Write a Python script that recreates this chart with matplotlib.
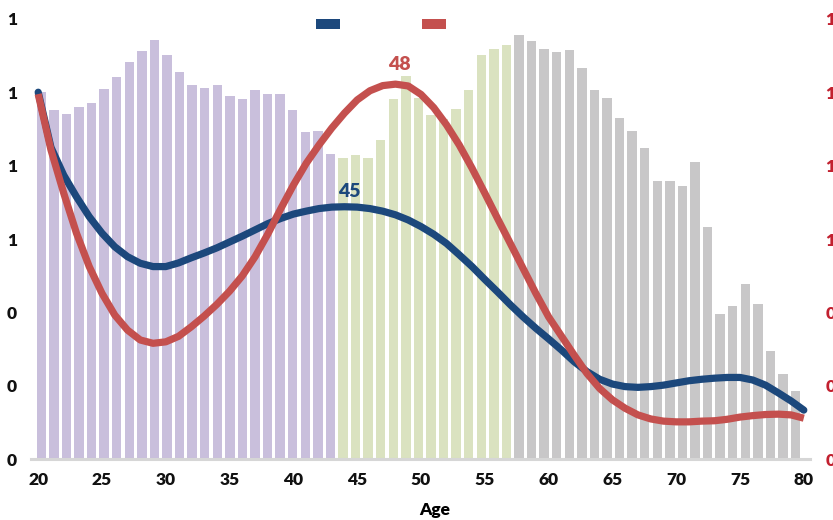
import matplotlib
matplotlib.use("Agg")
import matplotlib.pyplot as plt
from matplotlib.ticker import FuncFormatter
from matplotlib.patches import Patch
import numpy as np

plt.rcParams['font.family'] = ['Lato', 'DejaVu Sans']
FW = 'heavy'

ages = list(range(20, 81))

bar_values = [1.00, 0.952, 0.941, 0.959, 0.971, 1.009, 1.041, 1.082, 1.112, 1.142,
              1.101, 1.055, 1.021, 1.011, 1.021, 0.989, 0.981, 1.005, 0.995, 0.995,
              0.952, 0.892, 0.895, 0.832, 0.822, 0.829, 0.822, 0.869, 0.981, 1.045,
              0.985, 0.938, 0.926, 0.955, 1.006, 1.102, 1.118, 1.129, 1.156, 1.139,
              1.118, 1.109, 1.115, 1.065, 1.006, 0.985, 0.929, 0.895, 0.849, 0.758,
              0.758, 0.745, 0.809, 0.632, 0.396, 0.418, 0.478, 0.423, 0.296, 0.232,
              0.186]

blue_values = [1.00, 0.850, 0.774, 0.715, 0.661, 0.616, 0.579, 0.552, 0.534, 0.525,
               0.525, 0.535, 0.549, 0.562, 0.576, 0.592, 0.608, 0.625, 0.642, 0.656,
               0.668, 0.676, 0.683, 0.687, 0.688, 0.687, 0.683, 0.676, 0.666, 0.652,
               0.634, 0.613, 0.588, 0.557, 0.525, 0.490, 0.456, 0.421, 0.388, 0.357,
               0.328, 0.298, 0.266, 0.239, 0.218, 0.205, 0.198, 0.196, 0.198, 0.202,
               0.208, 0.214, 0.218, 0.221, 0.223, 0.223, 0.216, 0.202, 0.181, 0.159,
               0.134]

red_values = [0.995, 0.843, 0.725, 0.616, 0.525, 0.452, 0.393, 0.352, 0.325, 0.316,
              0.320, 0.335, 0.361, 0.390, 0.422, 0.458, 0.500, 0.552, 0.614, 0.682,
              0.747, 0.806, 0.856, 0.902, 0.943, 0.979, 1.004, 1.018, 1.022, 1.017,
              0.994, 0.958, 0.911, 0.856, 0.793, 0.725, 0.656, 0.588, 0.520, 0.452,
              0.388, 0.336, 0.284, 0.234, 0.193, 0.162, 0.139, 0.121, 0.110, 0.104,
              0.102, 0.102, 0.104, 0.105, 0.109, 0.115, 0.119, 0.122, 0.123, 0.121,
              0.112]

group_edges = [44, 58]  # first age of green group, first age of gray group
purple = '#c9bfdc'
green = '#dae2c0'
gray = '#c8c7c8'
blue = '#1c487c'
red = '#c4504e'
red_tick = '#c2202f'

xticks = list(range(20, 81, 5))
yticks = [0, 0.2, 0.4, 0.6, 0.8, 1.0, 1.2]

W, H = 833, 520
fig = plt.figure(figsize=(W / 100, H / 100), dpi=100)
left, right, bottom, top = 31, 810, 459.3, 18.8
rect = [left / W, 1 - bottom / H, (right - left) / W, (bottom - top) / H]

ax_b = fig.add_axes(rect)
colors = [purple if a < group_edges[0] else (green if a < group_edges[1] else gray) for a in ages]
ax_b.bar(ages, bar_values, width=0.75, color=colors, linewidth=0)
ax_b.set_xlim(19.18, 81.15)
ax_b.set_ylim(0, 1.2)
ax_b.set_xticks([])
ax_b.set_yticks(yticks)
ax_b.yaxis.set_major_formatter(FuncFormatter(lambda v, p: f"{v:.0f}"))
ax_b.tick_params(axis='y', length=0, pad=10, labelsize=12.5, labelcolor='#111111')
for s in ['top', 'right', 'left']:
    ax_b.spines[s].set_visible(False)
ax_b.spines['bottom'].set_color('#d6d6d6')
ax_b.spines['bottom'].set_linewidth(2.2)
for lab in ax_b.get_yticklabels():
    lab.set_fontweight(FW)

ax_l = fig.add_axes(rect, facecolor='none')
ax_l.plot(ages, blue_values, color=blue, lw=5.2, solid_capstyle='round', solid_joinstyle='round')
ax_l.plot(ages, red_values, color=red, lw=5.2, solid_capstyle='butt', solid_joinstyle='round')
ax_l.set_xlim(19.436, 80.486)
ax_l.set_ylim(0, 1.2)
ax_l.set_xticks(xticks)
ax_l.set_xticklabels([str(t) for t in xticks])
ax_l.tick_params(axis='x', length=0, pad=9, labelsize=12.5, labelcolor='#111111')
ax_l.yaxis.tick_right()
ax_l.set_yticks(yticks)
ax_l.yaxis.set_major_formatter(FuncFormatter(lambda v, p: f"{v:.0f}"))
ax_l.tick_params(axis='y', length=0, pad=11, labelsize=12.5, labelcolor=red_tick)
for s in ax_l.spines.values():
    s.set_visible(False)
for lab in ax_l.get_xticklabels() + ax_l.get_yticklabels():
    lab.set_fontweight(FW)
ax_l.set_xlabel('Age', fontsize=12.5, fontweight=FW)
ax_l.xaxis.set_label_coords(0.518, -0.097)

bi = ages.index(45)
ax_l.annotate('45', (45, blue_values[bi]), xytext=(-6, 5), textcoords='offset points',
              ha='center', va='bottom', color=blue, fontsize=14, fontweight=FW)
ri = ages.index(48)
ax_l.annotate('48', (48, red_values[ri]), xytext=(3, 8), textcoords='offset points',
              ha='center', va='bottom', color=red, fontsize=14, fontweight=FW)

handles = [Patch(facecolor=blue, edgecolor='none'), Patch(facecolor=red, edgecolor='none')]
fig.legend(handles, ['', ''], loc='center', bbox_to_anchor=(385.2 / W, 1 - 25 / H),
           ncol=2, frameon=False, fontsize=12, handlelength=1.44, handleheight=0.48,
           handletextpad=0.5, columnspacing=4.4, borderpad=0)

fig.savefig('out.png', dpi=100)
